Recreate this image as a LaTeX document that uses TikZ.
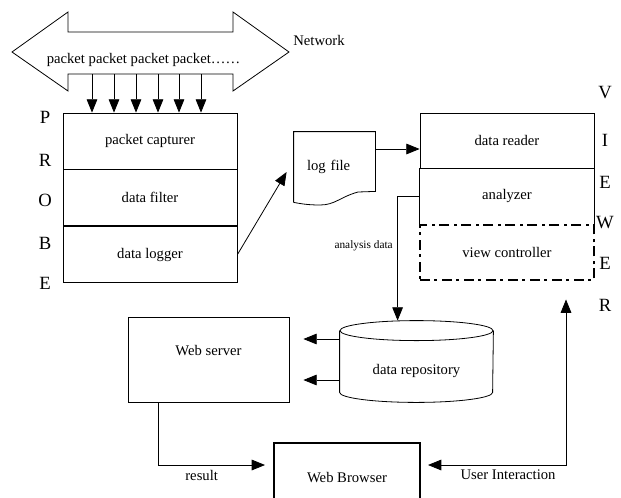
\documentclass[tikz,border=0pt]{standalone}
\usepackage{fontspec}
\setmainfont{Liberation Serif}
\usetikzlibrary{shapes,arrows.meta,positioning}

\begin{document}
\begin{tikzpicture}[x=0.75pt,y=-0.75pt,
  font=\fontsize{11}{13}\selectfont, line width=0.6pt,
  >={Triangle[length=10pt,width=8pt]},
  layer/.style={draw, rectangle, minimum width=130.5pt, minimum height=42pt, inner sep=0pt},
  vlayer/.style={layer, minimum height=41.25pt},
  flow/.style={->},
  letter/.style={font=\fontsize{14}{16}\selectfont}]
\useasboundingbox (0,0) rectangle (621,497);

% network pipe
\draw (12,52) -- (68,12) -- (68,32) -- (233,32) -- (233,12) -- (289,52) -- (233,91) -- (233,74) -- (68,74) -- (68,91) -- cycle;
\node (pkts) at (143.5,60) {packet packet packet packet……};
\node (net) at (319,40) {Network};

% probe
\node[layer] (cap) at (150,141) {packet capturer};
\node[layer, below=0pt of cap] (filter) {data filter};
\node[layer, below=0pt of filter] (logger) {data logger};
\foreach \x in {92,114,136,158,179,201}
  \draw[flow] (\x,74) -- (cap.north -| \x,0);
\foreach \l/\y [count=\i] in {P/117,R/160,O/200,B/243,E/283}
  \node[letter] (probe\i) at (45,\y) {\l};

% log file
\node[minimum width=60.75pt, minimum height=52.5pt, text width=41.25pt, inner xsep=9.75pt, align=left] (logf) at (334.5,167) {log file};
\draw (logf.south west) -- (logf.north west) -- (logf.north east) -- ([yshift=8.25pt]logf.south east)
  -- (358,192) .. controls (340,197) and (335,205) .. (320,205) .. controls (305,205) and (298,203) .. (logf.south west);

% viewer
\node[vlayer] (reader) at (507,140.5) {data reader};
\node[vlayer, draw=none, below=0pt of reader] (ana) {analyzer};
\draw (ana.north west) -- (ana.south west) (ana.north east) -- (ana.south east);
\node[vlayer, line width=1.7pt, dash pattern=on 7.5pt off 3pt on 2.25pt off 3.75pt, below=0pt of ana] (ctrl) {view controller};
\foreach \l/\y [count=\i] in {V/93,I/140,E/182,W/223,E/263,R/305}
  \node[letter] (viewer\i) at (605,\y) {\l};

% storage and web side
\node[minimum width=114.75pt, minimum height=60.75pt, label={[yshift=-7pt]center:data repository}] (repo) at (416.5,361.5) {};
\draw ([yshift=-7.5pt]repo.north west) -- ([yshift=7.5pt]repo.south west)
  arc[start angle=180, end angle=360, x radius=57.375pt, y radius=7.5pt] -- ([yshift=-7.5pt]repo.north east);
\draw ([yshift=-7.5pt]repo.north) ellipse [x radius=57.375pt, y radius=7.5pt];
\node[draw, minimum width=120.75pt, minimum height=63.75pt, label={[yshift=7pt]center:Web server}] (web) at (208.5,359.5) {};
\node[draw, line width=1.5pt, minimum width=109.5pt, minimum height=52.5pt] (browser) at (347,478) {Web Browser};

\draw[flow] (logger.east) -- ([xshift=-5.25pt,yshift=-3.75pt]logf.west);
\draw[flow] ([yshift=13.5pt]logf.east) -- ([yshift=13.5pt]logf.east -| reader.west);
\draw[flow] (ana.west) -- ++(-22,0) coordinate (turn) -- node[left, pos=0.4, font=\fontsize{8.5}{10}\selectfont] {analysis data} (turn |- repo.north);
\draw[flow, shorten >=10.5pt] ([yshift=16.875pt]repo.west) -- ([yshift=16.875pt]repo.west -| web.east);
\draw[flow, shorten >=10.5pt] ([yshift=-13.875pt]repo.west) -- ([yshift=-13.875pt]repo.west -| web.east);
\draw[flow] (web.south -| 158,0) |- node[below, pos=0.704] {result} ([xshift=-6pt]browser.west |- 0,465);
\draw[<->] ([xshift=5.25pt]browser.east |- 0,465) -| node[below, pos=0.29] {User Interaction} ([yshift=-13.5pt]ctrl.south -| 566,0);
\end{tikzpicture}
\end{document}
